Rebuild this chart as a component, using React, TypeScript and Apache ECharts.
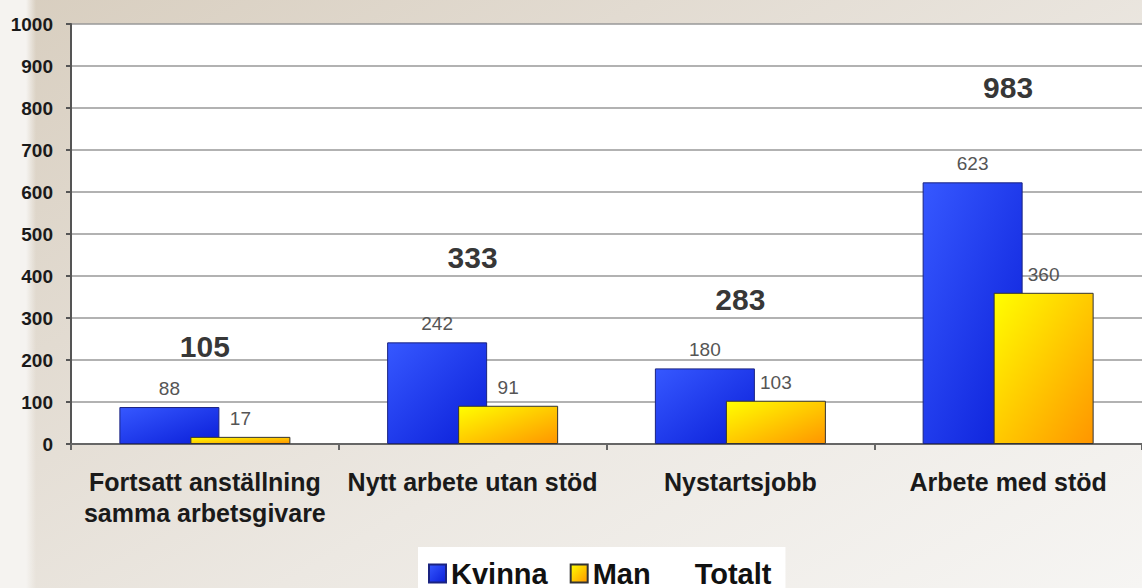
import React, { useEffect, useRef } from "react";
import * as echarts from "echarts";

const categories = [
  "Fortsatt anställning\nsamma arbetsgivare",
  "Nytt arbete utan stöd",
  "Nystartsjobb",
  "Arbete med stöd",
];
const kvinna = [88, 242, 180, 623];
const man = [17, 91, 103, 360];
const totals = [105, 333, 283, 983];
// axis level where each "Totalt" label is anchored
const totalLabelLevels = [233, 445, 343, 850];
const yTicks = { min: 0, max: 1000, interval: 100 };

const FONT = "'Liberation Sans', Arial, sans-serif";

export default function App() {
  const ref = useRef<HTMLDivElement>(null);
  useEffect(() => {
    document.body.style.margin = "0";
    const chart = echarts.init(ref.current!, null, { renderer: "svg" });
    chart.setOption({
      animation: false,
      backgroundColor: "transparent",
      textStyle: { fontFamily: FONT },
      grid: {
        left: 71,
        top: 24,
        bottom: 144,
        right: -13,
        show: true,
        backgroundColor: "#ffffff",
        borderWidth: 0,
      },
      legend: {
        left: 418,
        top: 547,
        padding: [12, 14, 12, 10],
        backgroundColor: "#ffffff",
        icon: "rect",
        itemWidth: 17,
        itemHeight: 18,
        itemGap: 22,
        textStyle: { fontSize: 29, fontWeight: "bold", color: "#111", fontFamily: FONT },
        data: [
          { name: "Kvinna" },
          { name: "Man" },
          { name: "Totalt", itemStyle: { opacity: 0 } },
        ],
      },
      xAxis: {
        type: "category",
        data: categories,
        axisLine: { lineStyle: { color: "#666", width: 2 } },
        axisTick: { show: true, length: 6, lineStyle: { color: "#666", width: 2 } },
        axisLabel: {
          margin: 22,
          fontSize: 25,
          fontWeight: "bold",
          color: "#1a1a1a",
          lineHeight: 31,
          fontFamily: FONT,
          interval: 0,
        },
      },
      yAxis: {
        type: "value",
        min: yTicks.min,
        max: yTicks.max,
        interval: yTicks.interval,
        axisLine: { show: true, lineStyle: { color: "#555", width: 2 } },
        axisTick: { show: true, length: 5, lineStyle: { color: "#555", width: 2 } },
        axisLabel: {
          margin: 18,
          fontSize: 19,
          fontWeight: "bold",
          color: "#1a1a1a",
          fontFamily: FONT,
          formatter: (v: number) => String(v),
        },
        splitLine: { lineStyle: { color: "#999", width: 1.5 } },
      },
      series: [
        {
          name: "Kvinna",
          type: "bar",
          data: kvinna,
          barWidth: 100,
          barGap: "-29%",
          itemStyle: {
            color: new echarts.graphic.LinearGradient(0, 0, 1, 1, [
              { offset: 0, color: "#3658ff" },
              { offset: 1, color: "#0a1ed8" },
            ]),
            borderColor: "#1a2380",
            borderWidth: 1,
          },
          label: {
            show: true,
            position: "top",
            distance: 9,
            fontSize: 19,
            color: "#555",
            fontFamily: FONT,
          },
        },
        {
          name: "Man",
          type: "bar",
          data: man,
          barWidth: 100,
          barGap: "-29%",
          itemStyle: {
            color: new echarts.graphic.LinearGradient(0, 0, 1, 1, [
              { offset: 0, color: "#ffff00" },
              { offset: 1, color: "#ff9500" },
            ]),
            borderColor: "#333",
            borderWidth: 1,
          },
          label: {
            show: true,
            position: "top",
            distance: 9,
            fontSize: 19,
            color: "#555",
            fontFamily: FONT,
          },
        },
        {
          name: "Totalt",
          type: "scatter",
          data: totalLabelLevels,
          symbol: "rect",
          symbolSize: 1,
          z: 5,
          itemStyle: { color: "rgba(0,0,0,0)" },
          label: {
            show: true,
            position: "inside",
            formatter: (p: any) => String(totals[p.dataIndex]),
            fontSize: 30,
            fontWeight: "bold",
            color: "#000",
            fontFamily: FONT,
          },
        },
      ],
    });
    return () => chart.dispose();
  }, []);

  return (
    <div
      style={{
        width: 1142,
        height: 588,
        position: "relative",
        overflow: "hidden",
        background:
          "linear-gradient(to right, #f5f3f0 0px, #f5f3f0 26px, rgba(245,243,240,0) 36px), linear-gradient(150deg, #d8cebf 0%, #e2dbd1 30%, #ece8e2 60%, #f6f5f3 100%)",
      }}
    >
      <div ref={ref} style={{ width: 1142, height: 588 }} />
    </div>
  );
}
